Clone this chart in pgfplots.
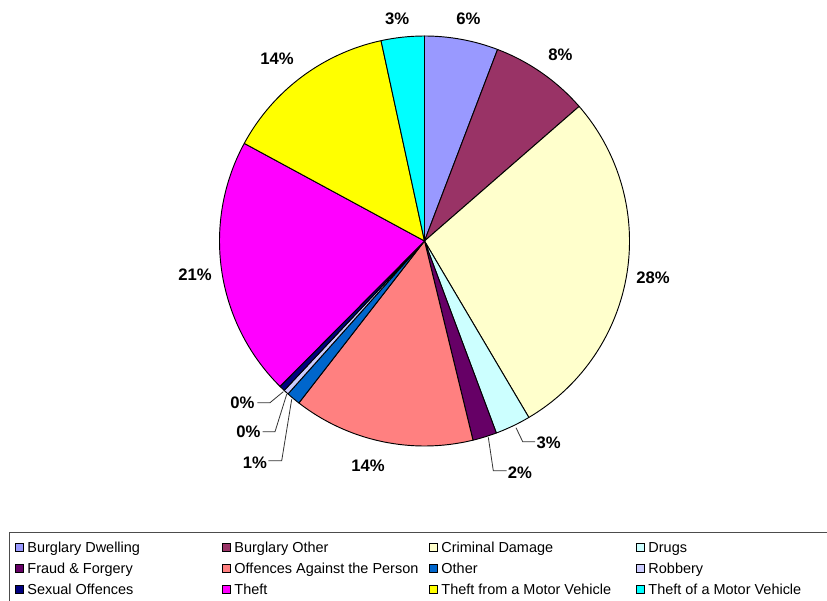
\documentclass[border=0pt]{standalone}
\usepackage{pgfplots}
\usepackage{pgfplotstable}
\pgfplotsset{compat=1.18}
\usepackage{fontspec}
\setmainfont{Liberation Sans}

\definecolor{cBD}{HTML}{9999FF}
\definecolor{cBO}{HTML}{993366}
\definecolor{cCD}{HTML}{FFFFCC}
\definecolor{cDR}{HTML}{CCFFFF}
\definecolor{cFF}{HTML}{660066}
\definecolor{cOP}{HTML}{FF8080}
\definecolor{cOT}{HTML}{0066CC}
\definecolor{cRO}{HTML}{CCCCFF}
\definecolor{cSO}{HTML}{000080}
\definecolor{cTH}{HTML}{FF00FF}
\definecolor{cTF}{HTML}{FFFF00}
\definecolor{cTM}{HTML}{00FFFF}

% share of each offence (percent), clockwise from 12 o'clock
\pgfplotstableread{
value color
5.8   cBD
7.8   cBO
27.9  cCD
2.8   cDR
1.9   cFF
14.3  cOP
1.1   cOT
0.4   cRO
0.45  cSO
20.45 cTH
13.7  cTF
3.4   cTM
}\piedata

\newcommand\LE[1]{\makebox[148.75pt][l]{\hspace{2.75pt}#1}}
\newcommand\pct{\fontsize{12.5}{14}\selectfont\bfseries}

\begin{document}
\begin{tikzpicture}
\begin{axis}[
  x=0.75pt, y=0.75pt,
  xmin=0, xmax=827, ymin=0, ymax=600,
  hide axis, clip=false,
  legend columns=4,
  legend image code/.code={\filldraw[#1, draw=black, line width=0.5pt] (0pt,1.1pt) rectangle (6pt,7.1pt);},
  legend style={
    at={(0.01088,0.1133)}, anchor=north west,
    draw=black!70, line width=0.7pt,
    inner xsep=4.25pt, inner ysep=7pt,
    row sep=5.25pt, column sep=0pt,
    font=\fontsize{10.85}{12}\selectfont,
    nodes={inner sep=0pt, text height=8pt, text depth=2.5pt},
    cells={anchor=base west},
  },
]
\pgfplotsextra{
  \gdef\cum{0}
  \foreach \i in {0,...,11}{
    \pgfplotstablegetelem{\i}{value}\of\piedata \let\v\pgfplotsretval
    \pgfplotstablegetelem{\i}{color}\of\piedata \let\slicecol\pgfplotsretval
    \pgfmathsetmacro\aa{90-3.6*\cum}
    \pgfmathsetmacro\bb{90-3.6*(\cum+\v)}
    \filldraw[fill=\slicecol, draw=black, line width=0.7pt, line join=round]
      (axis cs:424.5,359) -- ++(\aa:153.75pt) arc[start angle=\aa, end angle=\bb, radius=153.75pt] -- cycle;
    \pgfmathsetmacro\newcum{\cum+\v}
    \xdef\cum{\newcum}
  }
}

\addlegendimage{fill=cBD}\addlegendentry{\LE{Burglary Dwelling}}
\addlegendimage{fill=cBO}\addlegendentry{\LE{Burglary Other}}
\addlegendimage{fill=cCD}\addlegendentry{\LE{Criminal Damage}}
\addlegendimage{fill=cDR}\addlegendentry{\LE{Drugs}}
\addlegendimage{fill=cFF}\addlegendentry{\LE{Fraud \& Forgery}}
\addlegendimage{fill=cOP}\addlegendentry{\LE{Offences Against the Person}}
\addlegendimage{fill=cOT}\addlegendentry{\LE{Other}}
\addlegendimage{fill=cRO}\addlegendentry{\LE{Robbery}}
\addlegendimage{fill=cSO}\addlegendentry{\LE{Sexual Offences}}
\addlegendimage{fill=cTH}\addlegendentry{\LE{Theft}}
\addlegendimage{fill=cTF}\addlegendentry{\LE{Theft from a Motor Vehicle}}
\addlegendimage{fill=cTM}\addlegendentry{\LE{Theft of a Motor Vehicle}}

% leader lines
\draw[black!80, line width=0.6pt] (axis cs:516,172.3) -- (axis cs:522.7,158.3) -- (axis cs:535,158.3);
\draw[black!80, line width=0.6pt] (axis cs:488.3,162.7) -- (axis cs:493.3,129.3) -- (axis cs:506.7,129.3);
\draw[black!80, line width=0.6pt] (axis cs:283.3,208.3) -- (axis cs:270,197.3) -- (axis cs:257.3,197.3);
\draw[black!80, line width=0.6pt] (axis cs:286.7,205.7) -- (axis cs:275,168.3) -- (axis cs:262.7,168.3);
\draw[black!80, line width=0.6pt] (axis cs:291.7,200.7) -- (axis cs:281.7,139.3) -- (axis cs:268.3,139.3);

% percentage labels
\node[anchor=base, inner sep=0pt, font=\pct] at (axis cs:468.3,575) {6\%};
\node[anchor=base, inner sep=0pt, font=\pct] at (axis cs:560.3,539.3) {8\%};
\node[anchor=base, inner sep=0pt, font=\pct] at (axis cs:397.2,575) {3\%};
\node[anchor=base, inner sep=0pt, font=\pct] at (axis cs:277,535.7) {14\%};
\node[anchor=base, inner sep=0pt, font=\pct] at (axis cs:653,316) {28\%};
\node[anchor=base, inner sep=0pt, font=\pct] at (axis cs:195,319) {21\%};
\node[anchor=base, inner sep=0pt, font=\pct] at (axis cs:368,128.3) {14\%};
\node[anchor=base, inner sep=0pt, font=\pct] at (axis cs:548.7,151.7) {3\%};
\node[anchor=base, inner sep=0pt, font=\pct] at (axis cs:520,121.7) {2\%};
\node[anchor=base, inner sep=0pt, font=\pct] at (axis cs:242.5,191.7) {0\%};
\node[anchor=base, inner sep=0pt, font=\pct] at (axis cs:248.3,162.7) {0\%};
\node[anchor=base, inner sep=0pt, font=\pct] at (axis cs:255,131.7) {1\%};
\end{axis}
\pgfresetboundingbox
\path[use as bounding box] (current axis.south west) rectangle (current axis.north east);
\end{tikzpicture}
\end{document}
